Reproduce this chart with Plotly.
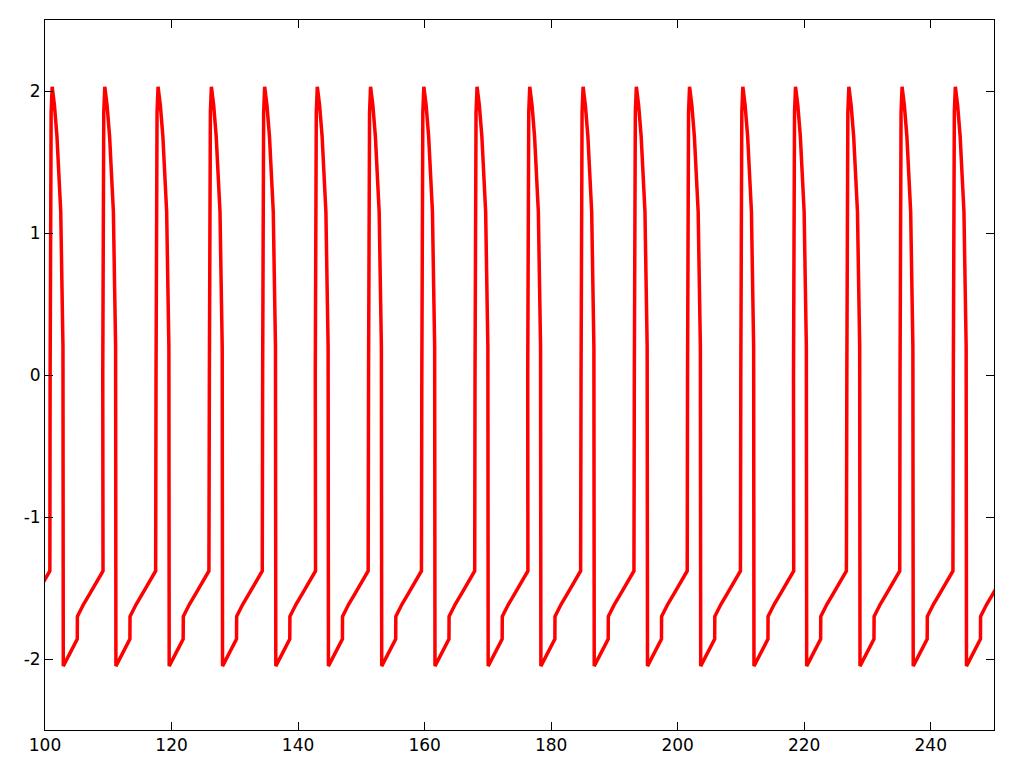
import plotly.graph_objects as go

# Times (x) at which each cycle reaches its minimum
drop_times = [94.49, 102.89, 111.21, 119.63, 128.06, 136.48, 144.80, 153.22,
              161.64, 170.05, 178.38, 186.81, 195.23, 203.64, 212.06, 220.39,
              228.82, 237.23, 245.65]

# One cycle of the waveform: offset from the minimum, value
shape_dt = [-2.08, -1.92, -1.76, -1.40, -1.00, -0.70, -0.40, -0.20, -0.10, -0.05,
            0.00, 2.21, 2.23, 3.20, 4.27, 5.30, 6.28]
shape_v = [0.00, 1.85, 2.03, 1.90, 1.68, 1.42, 1.15, 0.60, 0.25, 0.20,
           -2.05, -1.86, -1.70, -1.615, -1.535, -1.455, -1.38]

x_ticks = [100, 120, 140, 160, 180, 200, 220, 240]
x_labels = ["100", "120", "140", "160", "180", "200", "220", "240"]
y_ticks = [-2, -1, 0, 1, 2]
y_labels = ["-2", "-1", "0", "1", "2"]

xs, ys = [], []
for t in drop_times:
    for dt, v in zip(shape_dt, shape_v):
        xs.append(t + dt)
        ys.append(v)

fig = go.Figure()
fig.add_trace(go.Scatter(x=xs, y=ys, mode="lines",
                         line=dict(color="#ff0000", width=3.5),
                         showlegend=False, hoverinfo="skip"))

axis_common = dict(showgrid=False, zeroline=False, showline=True, linecolor="black",
                   linewidth=1, mirror="ticks", ticks="inside", ticklen=8,
                   tickcolor="black", tickwidth=1,
                   tickfont=dict(family="DejaVu Sans", size=17, color="black"))

fig.update_layout(
    width=1008, height=752,
    margin=dict(l=37, r=22, t=12, b=30, autoexpand=False),
    paper_bgcolor="white", plot_bgcolor="white",
    xaxis=dict(range=[100, 250], tickvals=x_ticks, ticktext=x_labels, **axis_common),
    yaxis=dict(range=[-2.5, 2.5], tickvals=y_ticks, ticktext=y_labels, **axis_common),
)

fig.write_html("out.html")
